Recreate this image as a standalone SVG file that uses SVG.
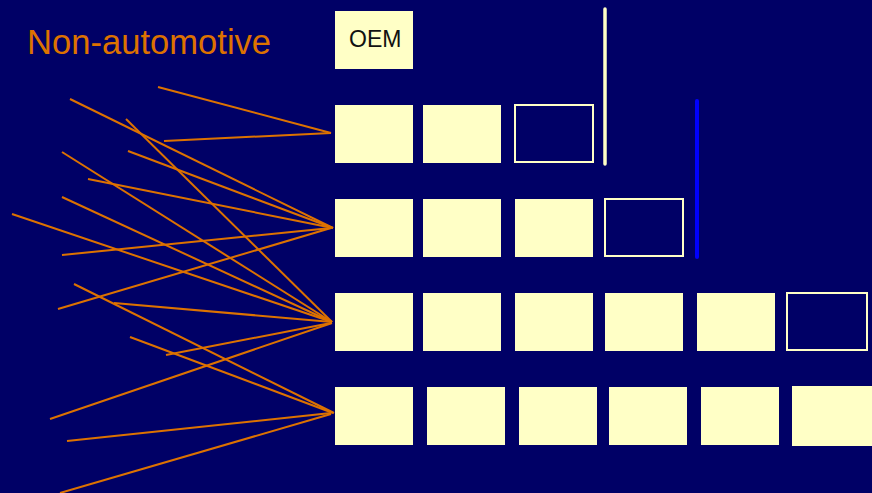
<svg xmlns="http://www.w3.org/2000/svg" width="872" height="493" viewBox="0 0 872 493">
  <style>
    .box { fill: #FFFFC6; }
    .open { fill: none; stroke: #FFFFC6; stroke-width: 2; }
    .link { stroke: #DD7200; stroke-width: 2; fill: none; }
    .label { font-family: "Liberation Sans", Arial, sans-serif; }
  </style>
  <rect width="872" height="493" fill="#000066"/>

  <text class="label" x="27" y="54" font-size="34.6" fill="#DD7200">Non-automotive</text>

  <!-- tier dividers -->
  <line x1="605" y1="9" x2="605" y2="164" stroke="#FFFFC6" stroke-width="3.5" stroke-linecap="round"/>
  <line x1="697" y1="101" x2="697" y2="257" stroke="#0000FF" stroke-width="4" stroke-linecap="round"/>

  <g id="oem">
    <rect class="box" x="335" y="11" width="78" height="58"/>
    <text class="label" x="349" y="47" font-size="23" fill="#111111">OEM</text>
  </g>

  <g id="tier1">
    <rect class="box" x="335" y="105" width="78" height="58"/>
    <rect class="box" x="423" y="105" width="78" height="58"/>
    <rect class="open" x="515" y="105" width="78" height="57"/>
  </g>

  <g id="tier2">
    <rect class="box" x="335" y="199" width="78" height="58"/>
    <rect class="box" x="423" y="199" width="78" height="58"/>
    <rect class="box" x="515" y="199" width="78" height="58"/>
    <rect class="open" x="605" y="199" width="78" height="57"/>
  </g>

  <g id="tier3">
    <rect class="box" x="335" y="293" width="78" height="58"/>
    <rect class="box" x="423" y="293" width="78" height="58"/>
    <rect class="box" x="515" y="293" width="78" height="58"/>
    <rect class="box" x="605" y="293" width="78" height="58"/>
    <rect class="box" x="697" y="293" width="78" height="58"/>
    <rect class="open" x="787" y="293" width="80" height="57"/>
  </g>

  <g id="tier4">
    <rect class="box" x="335" y="387" width="78" height="58"/>
    <rect class="box" x="427" y="387" width="78" height="58"/>
    <rect class="box" x="519" y="387" width="78" height="58"/>
    <rect class="box" x="609" y="387" width="78" height="58"/>
    <rect class="box" x="701" y="387" width="78" height="58"/>
    <rect class="box" x="792" y="386" width="80" height="60"/>
  </g>

  <g id="connectors" class="link">
    <!-- into tier 1 -->
    <line x1="158" y1="87" x2="331" y2="133"/>
    <line x1="164" y1="141" x2="331" y2="133"/>
    <!-- into tier 2 -->
    <line x1="70" y1="99" x2="333" y2="228"/>
    <line x1="128" y1="151" x2="333" y2="228"/>
    <line x1="88" y1="179" x2="333" y2="228"/>
    <line x1="62" y1="255" x2="331" y2="228"/>
    <line x1="58" y1="309" x2="331" y2="228"/>
    <!-- into tier 3 -->
    <line x1="126" y1="119" x2="332" y2="322"/>
    <line x1="62" y1="152" x2="332" y2="322"/>
    <line x1="62" y1="197" x2="332" y2="322"/>
    <line x1="12" y1="214" x2="332" y2="322"/>
    <line x1="114" y1="303" x2="332" y2="322"/>
    <line x1="166" y1="355" x2="331" y2="323"/>
    <line x1="50" y1="419" x2="332" y2="323"/>
    <!-- into tier 4 -->
    <line x1="74" y1="284" x2="334" y2="413"/>
    <line x1="130" y1="337" x2="333" y2="413"/>
    <line x1="67" y1="441" x2="331" y2="413"/>
    <line x1="60" y1="493" x2="331" y2="414"/>
  </g>
</svg>
